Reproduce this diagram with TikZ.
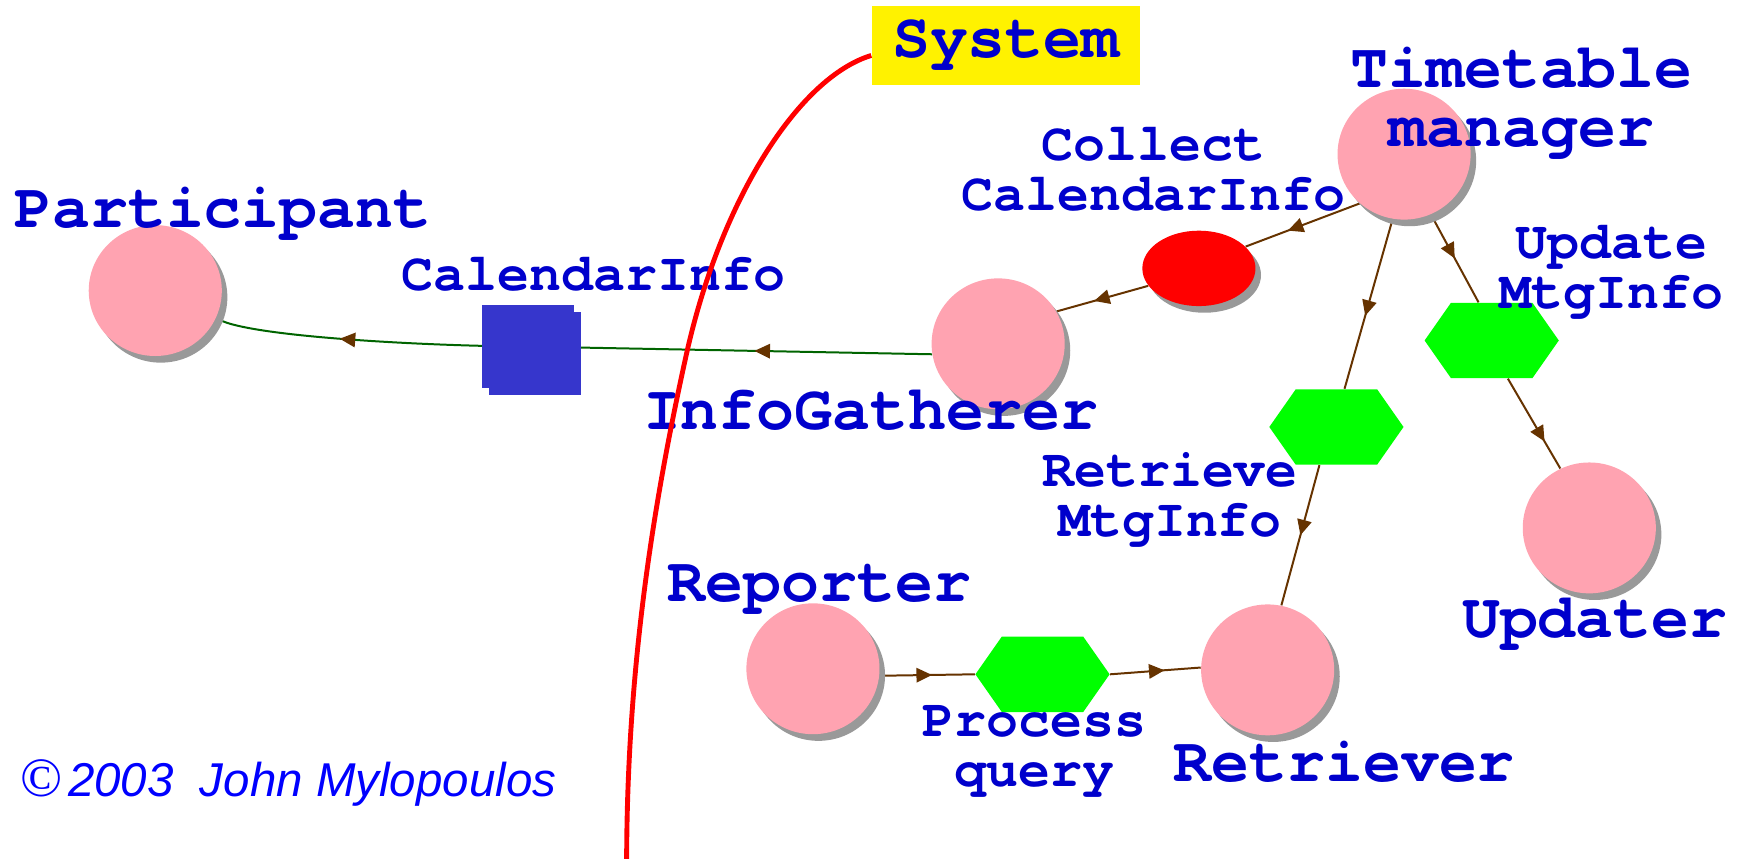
\documentclass[tikz,border=0pt]{standalone}
\usepackage{fontspec}
\setmonofont{TeX Gyre Cursor}
\setsansfont{Liberation Sans}
\newfontfamily\serifc{Liberation Serif}
\usetikzlibrary{shapes.geometric,shapes.symbols,shadows,arrows.meta,decorations.markings}
\pgfdeclarelayer{background}
\pgfsetlayers{background,main}
\definecolor{pinkc}{RGB}{255,163,177}
\definecolor{lblue}{RGB}{0,0,204}
\definecolor{cblue}{RGB}{0,0,255}
\definecolor{brownc}{RGB}{102,51,0}
\definecolor{greenl}{RGB}{0,100,0}
\definecolor{sqblue}{RGB}{54,54,204}
\definecolor{hexg}{RGB}{0,255,0}
\tikzset{
  shad/.style={drop shadow={shadow xshift=2.5pt, shadow yshift=-3pt, fill=black!40, opacity=1}},
  actor/.style={ellipse, fill=pinkc, inner sep=0pt, minimum width=60pt, minimum height=59pt, shad},
  goalov/.style={ellipse, fill=red, inner sep=0pt, minimum width=51pt, minimum height=34pt, shad},
  hexa/.style={signal, signal to=east and west, signal pointer angle=110, fill=hexg, inner sep=0pt, minimum width=60.5pt, minimum height=34pt},
  resq/.style={rectangle, fill=sqblue, inner sep=0pt, minimum width=41.5pt, minimum height=37.5pt},
  biglbl/.style={text=lblue, font=\ttfamily\bfseries\fontsize{28.5}{26.5}\selectfont, inner sep=0pt, align=center},
  smalllbl/.style={text=lblue, font=\ttfamily\bfseries\fontsize{24}{22.5}\selectfont, inner sep=0pt, align=center},
  flow/.style={draw=brownc, line width=0.9pt, postaction={decorate},
    decoration={markings, mark=at position #1 with {\arrow[brownc]{Triangle[length=7pt,width=6.5pt]}}}},
  gflow/.style={draw=greenl, line width=0.9pt, postaction={decorate},
    decoration={markings, mark=at position #1 with {\arrow[brownc]{Triangle[length=7pt,width=6.5pt]}}}},
}
\begin{document}
\begin{tikzpicture}[x=0.5pt,y=-0.5pt]
\useasboundingbox (0,0) rectangle (1568,774);
% actors
\node[actor] (part) at (140,262) {};
\node[actor] (tm) at (1266,139) {};
\node[actor] (ig) at (900,310) {};
\node[actor] (updr) at (1433,476) {};
\node[actor] (rep) at (733,603) {};
\node[actor] (retr) at (1143,604) {};
% goals / tasks / resources
\node[goalov] (coll) at (1081,242) {};
\node[hexa] (uhex) at (1345,307) {};
\node[hexa] (rhex) at (1205,385) {};
\node[hexa] (phex) at (940,608) {};
\node[resq] (calsh) at (482.5,319) {};
\node[resq] (cal) at (476.5,312.5) {};
% system box
\node[fill=yellow, minimum width=121pt, minimum height=36pt, inner sep=0pt, text=lblue, font=\ttfamily\bfseries\fontsize{28.5}{26.5}\selectfont] (sys) at (907,41) {System};
% labels (base = baseline of the last line)
\node[biglbl, anchor=base] (lpart) at (201,205) {Participant};
\node[biglbl, anchor=base] (ltm) at (1372,132) {Timetable\\manager};
\node[smalllbl, anchor=base] (lcoll) at (1040,190) {Collect\\CalendarInfo};
\node[smalllbl, anchor=base] (lcal) at (535,262) {CalendarInfo};
\node[biglbl, anchor=base] (lig) at (785,387) {InfoGatherer};
\node[smalllbl, anchor=base] (lupd) at (1453,278) {Update\\MtgInfo};
\node[smalllbl, anchor=base] (lret) at (1055,484) {Retrieve\\MtgInfo};
\node[biglbl, anchor=base] (lrep) at (739,542) {Reporter};
\node[biglbl, anchor=base] (lupdr) at (1438,575) {Updater};
\node[smalllbl, anchor=base] (lproc) at (933,709) {Process\\query};
\node[biglbl, anchor=base] (lretr) at (1212,705) {Retriever};
\node[anchor=base west, inner sep=0pt, text=cblue] (copy) at (18,718)
  {{\serifc\fontsize{25}{25}\selectfont\char"00A9}\kern2.5pt{\sffamily\itshape\fontsize{21.4}{21.4}\selectfont 2003\ \ John Mylopoulos}};
% connectors
\begin{pgfonlayer}{background}
\draw[gflow=0.44] (ig.189) -- (cal.center);
\draw[gflow=0.6] (cal.center) .. controls (380,312) and (215,303) .. (part.336);
\draw[flow=0.63] (tm.228) -- (coll.25);
\draw[flow=0.59] (coll.199) -- (ig.29);
\draw[flow=0.57] (tm.260) -- (rhex.78);
\draw[flow=0.5] (rhex.246) -- (retr.78);
\draw[flow=0.5] (tm.294) -- (uhex.109);
\draw[flow=0.7] (uhex.293) -- (updr.116);
\draw[flow=0.55] (rep.354) -- (phex.180);
\draw[flow=0.6] (phex.0) -- (retr.178);
\end{pgfonlayer}
% system boundary
\coordinate (sysend) at (565,780);
\draw[red, line width=2.2pt] (sys.west |- 0,50) .. controls (720,70) and (650,180) .. (619,319)
  .. controls (590,450) and (565,600) .. (sysend);
\end{tikzpicture}
\end{document}
